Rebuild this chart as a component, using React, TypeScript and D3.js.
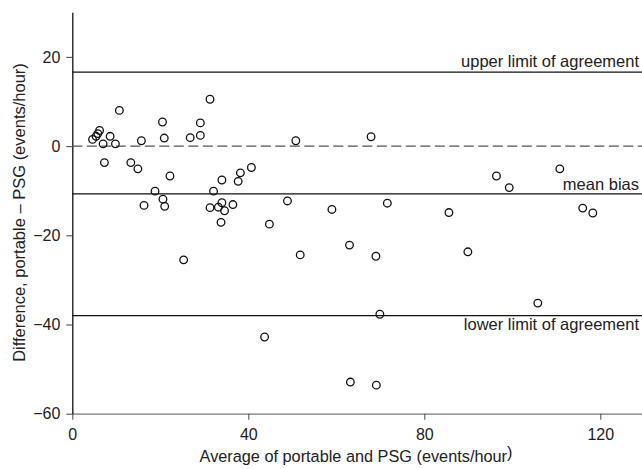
import React, { useEffect, useRef } from "react";
import * as d3 from "d3";

// Bland-Altman data
const avgValues = [
  4.6, 5.4, 5.8, 6.2, 7.0, 8.6, 9.8, 7.3, 10.7, 13.3, 14.9, 15.7, 16.3, 18.8,
  20.5, 20.9, 20.6, 21.0, 22.2, 26.8, 29.1, 29.1, 31.3, 32.1, 31.3, 33.2, 34.0,
  34.6, 36.5, 33.8, 34.0, 37.7, 38.2, 40.7, 44.8, 48.9, 50.8, 59.0, 67.9, 71.6,
  85.6, 96.4, 99.3, 110.8, 116.0, 118.3, 25.3, 51.8, 63.0, 69.0, 69.9, 43.7,
  63.2, 69.1, 89.9, 105.8,
];
const diffValues = [
  1.5, 2.2, 2.8, 3.5, 0.5, 2.2, 0.5, -3.7, 8.0, -3.7, -5.1, 1.2, -13.3, -10.1,
  5.4, 1.8, -11.9, -13.5, -6.7, 1.9, 2.4, 5.2, 10.5, -10.1, -13.8, -13.7, -12.7,
  -14.5, -13.1, -17.1, -7.6, -7.9, -6.0, -4.8, -17.5, -12.3, 1.2, -14.2, 2.1,
  -12.8, -14.9, -6.7, -9.3, -5.1, -13.9, -15.0, -25.5, -24.4, -22.2, -24.7,
  -37.7, -42.8, -52.9, -53.6, -23.7, -35.2,
];

const refLabels = ["upper limit of agreement", "mean bias", "lower limit of agreement"];
const refValues = [16.6, -10.7, -38.0];

const xTicks = [0, 40, 80, 120];
const yTicks = [-60, -40, -20, 0, 20];

const W = 642;
const H = 469;
const FONT = "'Liberation Sans', Arial, Helvetica, sans-serif";

export default function App() {
  const svgRef = useRef<SVGSVGElement | null>(null);

  useEffect(() => {
    const svg = d3.select(svgRef.current);
    svg.selectAll("*").remove();

    const x = d3.scaleLinear().domain([0, 130]).range([72.3, 644.3]);
    const y = d3.scaleLinear().domain([-60, 30]).range([413.7, 12.3]);

    // bottom axis (grey baseline, ticks down)
    const gx = svg.append("g").attr("transform", `translate(0,${y(-60)})`);
    gx.call(d3.axisBottom(x).tickValues(xTicks).tickSize(6).tickSizeOuter(0).tickPadding(9));
    gx.select(".domain").attr("stroke", "#777").attr("stroke-width", 1.3);
    gx.selectAll(".tick line").attr("stroke", "#555").attr("stroke-width", 1.1);
    gx.selectAll(".tick text")
      .attr("font-family", FONT)
      .attr("font-size", 16)
      .attr("fill", "#222");

    // left axis
    const gy = svg.append("g").attr("transform", `translate(${x(0)},0)`);
    gy.call(d3.axisLeft(y).tickValues(yTicks).tickSize(6).tickSizeOuter(0).tickPadding(6)
      .tickFormat((d) => d3.format("d")(d as number).replace("-", "\u2212")));
    gy.select(".domain").attr("stroke", "#111").attr("stroke-width", 1.3);
    gy.selectAll(".tick line").attr("stroke", "#555").attr("stroke-width", 1.1);
    gy.selectAll(".tick text")
      .attr("font-family", FONT)
      .attr("font-size", 16)
      .attr("fill", "#222");

    // zero line
    svg.append("line")
      .attr("x1", x(0)).attr("x2", W)
      .attr("y1", y(0)).attr("y2", y(0))
      .attr("stroke", "#555")
      .attr("stroke-width", 1.3)
      .attr("stroke-dasharray", "10 4.5");

    // bias and limits
    const labelOffsets = [-5, -3.5, 14.5];
    refValues.forEach((v, i) => {
      svg.append("line")
        .attr("x1", x(0)).attr("x2", W)
        .attr("y1", y(v)).attr("y2", y(v))
        .attr("stroke", "#111")
        .attr("stroke-width", 1.2);
      svg.append("text")
        .attr("x", 639)
        .attr("y", y(v) + labelOffsets[i])
        .attr("text-anchor", "end")
        .attr("font-family", FONT)
        .attr("font-size", 16.5)
        .attr("fill", "#222")
        .text(refLabels[i]);
    });

    // points
    svg.append("g")
      .selectAll("circle")
      .data(avgValues.map((a, i) => [a, diffValues[i]]))
      .join("circle")
      .attr("cx", (d) => x(d[0]))
      .attr("cy", (d) => y(d[1]))
      .attr("r", 3.8)
      .attr("fill", "none")
      .attr("stroke", "#111")
      .attr("stroke-width", 1.3);

    // axis titles
    const xt = svg.append("text")
      .attr("x", 356)
      .attr("y", 462)
      .attr("text-anchor", "middle")
      .attr("font-family", FONT)
      .attr("font-size", 16.3)
      .attr("fill", "#222");
    xt.append("tspan").text("Average of portable and PSG (events/hour");
    xt.append("tspan").attr("dy", -4).text(")");

    svg.append("text")
      .attr("transform", `translate(25,212.5) rotate(-90)`)
      .attr("text-anchor", "middle")
      .attr("font-family", FONT)
      .attr("font-size", 16.5)
      .attr("fill", "#222")
      .text("Difference, portable \u2013 PSG (events/hour)");
  }, []);

  return (
    <svg
      ref={svgRef}
      width={W}
      height={H}
      style={{ position: "absolute", left: 0, top: 0, background: "#fff" }}
    />
  );
}
